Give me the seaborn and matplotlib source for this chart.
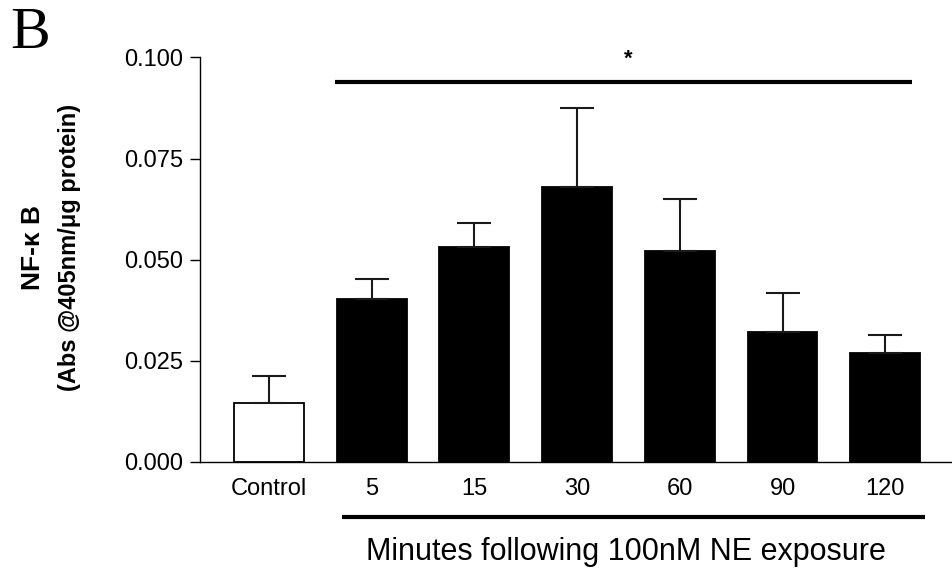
import numpy as np
import pandas as pd
import matplotlib
matplotlib.use("Agg")
import matplotlib.pyplot as plt
import seaborn as sns

# values
groups = ["Control", "5", "15", "30", "60", "90", "120"]
means = [0.0145, 0.0402, 0.0530, 0.0680, 0.0521, 0.0321, 0.0268]
sem = [0.0067, 0.0049, 0.0060, 0.0195, 0.0129, 0.0096, 0.0045]
bar_colors = ["white", "black", "black", "black", "black", "black", "black"]
yticks = [0.000, 0.025, 0.050, 0.075, 0.100]

df = pd.DataFrame({"group": groups, "mean": means, "sem": sem})

sns.set_style("ticks")
plt.rcParams["font.family"] = ["Liberation Sans", "DejaVu Sans"]
plt.rcParams["text.color"] = "black"
plt.rcParams["xtick.color"] = "black"
plt.rcParams["ytick.color"] = "black"
plt.rcParams["axes.edgecolor"] = "black"

fig = plt.figure(figsize=(9.53, 5.73), dpi=100)
ax = fig.add_axes([200 / 953, 111.3 / 573, 753 / 953, 404.2 / 573])

sns.barplot(data=df, x="group", y="mean", hue="group", palette=bar_colors,
            order=groups, hue_order=groups, width=0.68, edgecolor="black",
            linewidth=1.3, errorbar=None, legend=False, ax=ax)

xpos = np.arange(len(groups))
ax.errorbar(xpos, df["mean"], yerr=[np.zeros(len(groups)), df["sem"]],
            fmt="none", ecolor="#1a1a1a", elinewidth=1.5, capsize=12.5,
            capthick=1.5, zorder=1)

ax.set_xlim(-0.672, 6.66)
ax.set_ylim(0, 0.1)
ax.set_yticks(yticks)
ax.set_yticklabels([f"{v:.3f}" for v in yticks])
ax.tick_params(axis="y", length=7.2, width=1, pad=5, labelsize=17)
ax.tick_params(axis="x", length=0, pad=12, labelsize=17)
ax.set_xlabel("")
ax.set_ylabel("")
for side in ["top", "right"]:
    ax.spines[side].set_visible(False)
ax.spines["left"].set_linewidth(1)
ax.spines["bottom"].set_linewidth(1)

# significance bar
ax.plot([0.64, 6.26], [0.0939, 0.0939], color="black", lw=3, clip_on=False,
        solid_capstyle="butt")
ax.text(3.5, 0.0996, "*", ha="center", va="center", fontsize=16,
        fontweight="bold", clip_on=False)

# bracket under the time points
tr = ax.get_xaxis_transform()
ax.plot([0.71, 6.39], [-0.136, -0.136], color="black", lw=3, transform=tr,
        clip_on=False, solid_capstyle="butt")
ax.text(3.48, -0.223, "Minutes following 100nM NE exposure", transform=tr,
        ha="center", va="center", fontsize=22)

fig.text(33 / 953, 1 - 248 / 573, "NF-\u03ba B", rotation=90, ha="center",
         va="center", fontsize=19, fontweight="bold")
fig.text(70 / 953, 1 - 247 / 573, "(Abs @405nm/\u03bcg protein)", rotation=90,
         ha="center", va="center", fontsize=17, fontweight="bold")

fig.text(10 / 953, 1 - 34 / 573, "B", ha="left", va="center", fontsize=43,
         family="Liberation Serif")

fig.savefig("out.png", dpi=100)
